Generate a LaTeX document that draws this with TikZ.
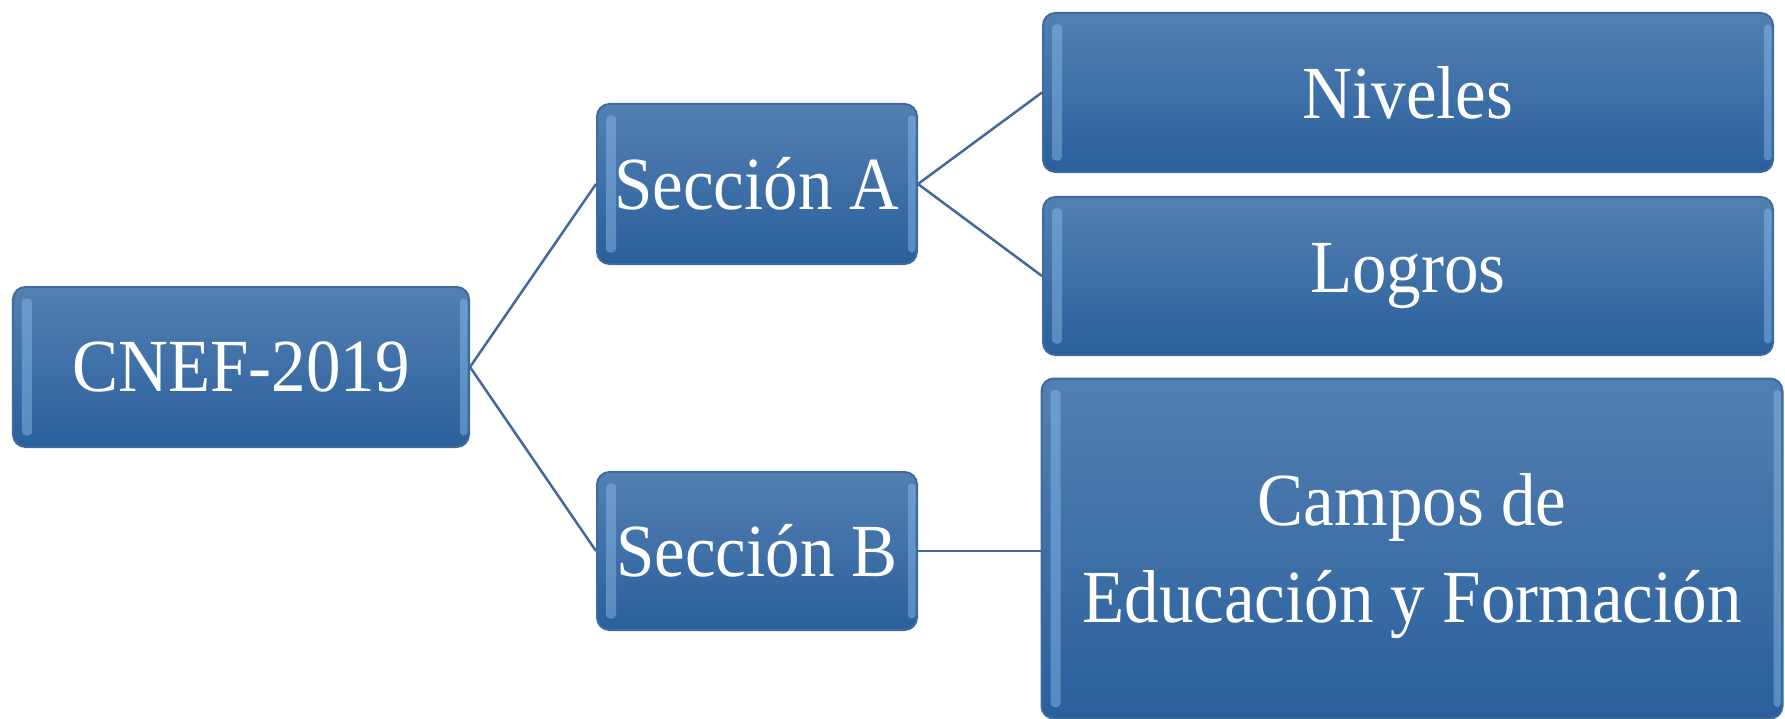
\documentclass[tikz,border=0pt]{standalone}
\usepackage{fontspec}
\setmainfont[FakeStretch=0.92]{Liberation Serif}
\definecolor{boxtop}{HTML}{5380B2}
\definecolor{boxbot}{HTML}{2A5F9C}
\definecolor{boxedge}{HTML}{3E6A9C}
\definecolor{bevel}{HTML}{8FC0EE}
\definecolor{conn}{HTML}{41699A}
\tikzset{
  boxtxt/.style={text=white, inner sep=0pt, font=\fontsize{30}{38.8}\selectfont, align=center},
  box/.style={rectangle, rounded corners=5pt, draw=boxedge, line width=0.8pt,
    top color=boxtop, bottom color=boxbot, boxtxt},
  link/.style={draw=conn, line width=1pt},
  bev/.style={fill=bevel, opacity=0.45, rounded corners=1.5pt}
}
\begin{document}
\begin{tikzpicture}[x=0.4pt,y=-0.4pt]
\useasboundingbox (0,0) rectangle (1785,719);
\node[box, minimum width=182.4pt, minimum height=64pt] (cnef) at (241,367) {CNEF-2019};
\node[box, minimum width=128pt, minimum height=64pt] (seca) at (757,184) {Sección A};
\node[box, minimum width=128pt, minimum height=63.2pt] (secb) at (757,551) {Sección B};
\node[box, minimum width=292pt, minimum height=63.6pt] (niv) at (1408,92.5) {Niveles};
\node[box, minimum width=292pt, minimum height=63.2pt] (log) at (1408,276) {Logros};
\node[box, minimum width=296.4pt, minimum height=136pt] (cam) at (1412,548.5) {};
\node[boxtxt] (camtxt) at ([yshift=-3.2pt]cam.center) {Campos de\\Educación y Formación};
\foreach \n in {cnef,seca,secb,niv,log,cam}{
  \fill[bev] ([xshift=4pt,yshift=-5pt]\n.north west) rectangle ([xshift=8pt,yshift=5pt]\n.south west);
  \fill[bev] ([xshift=-4pt,yshift=-5pt]\n.north east) rectangle ([xshift=-1pt,yshift=5pt]\n.south east);
}
\draw[link] (cnef.east) -- (seca.west);
\draw[link] (cnef.east) -- (secb.west);
\draw[link] (seca.east) -- (niv.west);
\draw[link] (seca.east) -- (log.west);
\draw[link] (secb.east) -- (secb.east -| cam.west);
\end{tikzpicture}
\end{document}
